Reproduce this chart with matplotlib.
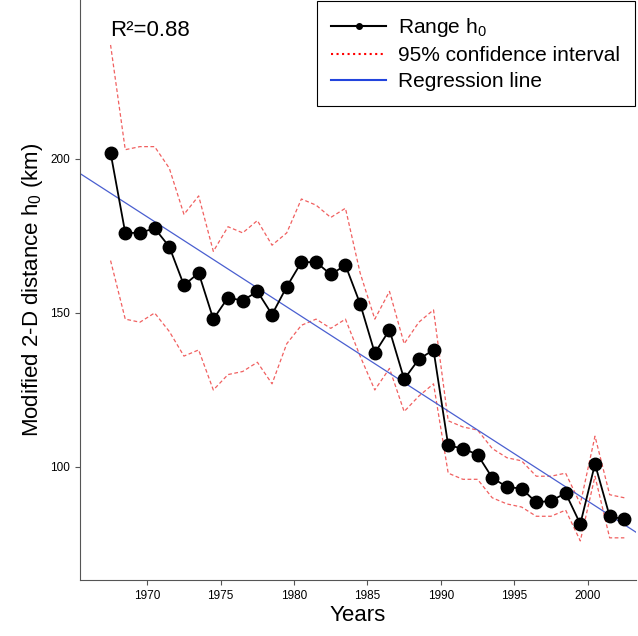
import matplotlib.pyplot as plt
import numpy as np
from matplotlib.lines import Line2D

plt.rcParams['font.family'] = ['Liberation Sans', 'DejaVu Sans']
plt.rcParams['mathtext.fontset'] = 'custom'
plt.rcParams['mathtext.rm'] = 'Liberation Sans'

years = np.arange(1967.5, 2003, 1.0)
range_h0 = [202, 176, 176, 177.5, 171.5, 159, 163, 148, 155, 154, 157, 149.5,
            158.5, 166.5, 166.5, 162.5, 165.5, 153, 137, 144.5, 128.5, 135, 138,
            107, 106, 104, 96.5, 93.5, 93, 88.5, 89, 91.5, 81.5, 101, 84, 83]
upper_ci = [237, 203, 204, 204, 197, 182, 188, 170, 178, 176, 180, 172, 176, 187,
            185, 181, 184, 163, 148, 157, 140, 147, 151, 115, 113, 112, 106, 103,
            102, 97, 97, 98, 88, 110, 91, 90]
lower_ci = [167, 148, 147, 150, 144, 136, 138, 125, 130, 131, 134, 127, 140, 146,
            148, 145, 148, 136, 125, 132, 118, 123, 127, 98, 96, 96, 90, 88, 87,
            84, 84, 86, 76, 97, 77, 77]

fig = plt.figure(figsize=(6.38, 6.36), dpi=100)
ax = fig.add_axes([0.125, 0.088, 0.872, 0.912])

ax.plot(years, upper_ci, color='#ee4444', ls='--', lw=0.9, dashes=(3, 2), alpha=0.85)
ax.plot(years, lower_ci, color='#ee4444', ls='--', lw=0.9, dashes=(3, 2), alpha=0.85)

slope, icpt = np.polyfit(years, range_h0, 1)
xl = np.array([1965.0, 2004.0])
ax.plot(xl, slope * xl + icpt, color='#4a5fd0', lw=0.9)

ax.plot(years, range_h0, color='black', lw=1.3, marker='o', ms=9)

ax.set_xlim(1965.4, 2003.3)
ax.set_ylim(63.3, 251.6)
ax.set_xticks([1970, 1975, 1980, 1985, 1990, 1995, 2000])
ax.set_yticks([100, 150, 200])
ax.tick_params(labelsize=8.5, color='#555555')
for s in ['top', 'right']:
    ax.spines[s].set_visible(False)
ax.spines['left'].set_color('#555555')
ax.spines['bottom'].set_color('#555555')
ax.set_xlabel('Years', fontsize=16, labelpad=2)
ax.set_ylabel('Modified 2-D distance h$_0$ (km)', fontsize=16)
ax.text(0.055, 0.965, 'R²=0.88', transform=ax.transAxes, fontsize=16, va='top')

handles = [Line2D([], [], color='black', lw=1.5, marker='o', ms=4),
           Line2D([], [], color='red', ls=':', lw=1.5),
           Line2D([], [], color='#2244dd', lw=1.5)]
leg = ax.legend(handles, ['Range h$_0$', '95% confidence interval', 'Regression line'],
                loc='upper right', bbox_to_anchor=(1.005, 1.005), fontsize=15,
                fancybox=False, framealpha=1, edgecolor='black',
                handlelength=2.6, handletextpad=0.6, borderpad=0.7,
                labelspacing=0.35, borderaxespad=0.2)
leg.get_frame().set_linewidth(0.8)

fig.savefig('out.png', dpi=100)
